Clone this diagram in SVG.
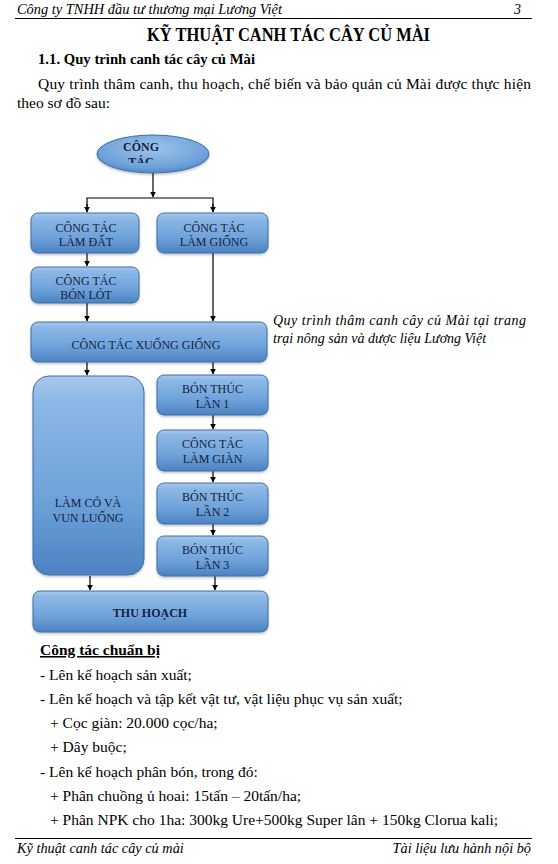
<svg xmlns="http://www.w3.org/2000/svg" width="558" height="864" viewBox="0 0 558 864">
<style>
.t{font-family:"Liberation Serif","Times New Roman",serif;fill:#000}
.i{font-style:italic}
.b{font-weight:bold}
.bx{fill:url(#g);stroke:#3e6ea6;stroke-width:1}
.lb{font-family:"Liberation Serif","Times New Roman",serif;font-size:12px;fill:#16233d;text-anchor:middle}
.c{stroke:#000;stroke-width:1.2;fill:none}
</style>
<defs>
<linearGradient id="g" x1="0" y1="0" x2="0" y2="1">
<stop offset="0" stop-color="#a9c9ec"/>
<stop offset="0.12" stop-color="#8db8e6"/>
<stop offset="0.6" stop-color="#6fa3db"/>
<stop offset="1" stop-color="#4c82c2"/>
</linearGradient>
<radialGradient id="ge" cx="0.5" cy="0.35" r="0.7">
<stop offset="0" stop-color="#9fc3ea"/>
<stop offset="0.7" stop-color="#6ea2da"/>
<stop offset="1" stop-color="#4d83c2"/>
</radialGradient>
<marker id="a" viewBox="0 0 10 10" refX="9" refY="5" markerWidth="6" markerHeight="6" orient="auto" markerUnits="userSpaceOnUse">
<path d="M0,0 L10,5 L0,10 z" fill="#000"/>
</marker>
<clipPath id="ec"><rect x="100" y="136" width="110" height="27"/></clipPath>
<filter id="sh" x="-10%" y="-10%" width="120%" height="130%"><feDropShadow dx="0" dy="1.5" stdDeviation="1" flood-color="#000" flood-opacity="0.25"/></filter>
</defs>

<!-- header -->
<text class="t i" x="17" y="14" font-size="14.3" textLength="265" lengthAdjust="spacingAndGlyphs">Công ty TNHH đầu tư thương mại Lương Việt</text>
<text class="t i" x="514" y="14" font-size="14">3</text>
<line x1="15" y1="18.5" x2="532" y2="18.5" stroke="#000" stroke-width="1"/>
<text class="t b" x="147" y="41" font-size="18" textLength="283" lengthAdjust="spacingAndGlyphs">KỸ THUẬT CANH TÁC CÂY CỦ MÀI</text>
<text class="t b" x="38" y="64" font-size="15.5" textLength="217" lengthAdjust="spacingAndGlyphs">1.1. Quy trình canh tác cây củ Mài</text>
<text class="t" x="38" y="89" font-size="15.5" textLength="493" lengthAdjust="spacing">Quy trình thâm canh, thu hoạch, chế biến và bảo quản củ Mài được thực hiện</text>
<text class="t" x="17" y="108" font-size="15.5">theo sơ đồ sau:</text>

<!-- connectors -->
<g id="connectors">
<path class="c" d="M153,173 V197" marker-end="url(#a)"/>
<path class="c" d="M87,212 V198 H213 V212" />
<path class="c" d="M87,204 V212" marker-end="url(#a)"/>
<path class="c" d="M213,204 V212" marker-end="url(#a)"/>
<path class="c" d="M87,253 V266" marker-end="url(#a)"/>
<path class="c" d="M213,253 V321" marker-end="url(#a)"/>
<path class="c" d="M87,303 V321" marker-end="url(#a)"/>
<path class="c" d="M87,362 V375" marker-end="url(#a)"/>
<path class="c" d="M213,362 V374" marker-end="url(#a)"/>
<path class="c" d="M213,415 V429" marker-end="url(#a)"/>
<path class="c" d="M213,471 V482" marker-end="url(#a)"/>
<path class="c" d="M213,524 V535" marker-end="url(#a)"/>
<path class="c" d="M90,576 V590" marker-end="url(#a)"/>
<path class="c" d="M215,576 V590" marker-end="url(#a)"/>
</g>

<g id="n-start">
<ellipse cx="153" cy="154" rx="56" ry="19" fill="url(#ge)" stroke="#3e6ea6" filter="url(#sh)"/>
<g clip-path="url(#ec)">
<text class="lb b" x="141" y="151">CÔNG</text>
<text class="lb b" x="141" y="166">TÁC</text>
</g>
</g>
<g id="n-lamdat">
<rect class="bx" x="31" y="213" width="108" height="40" rx="7" filter="url(#sh)"/>
<text class="lb" x="86" y="232">CÔNG TÁC</text>
<text class="lb" x="86" y="246">LÀM ĐẤT</text>
</g>
<g id="n-lamgiong">
<rect class="bx" x="157" y="213" width="111" height="40" rx="7" filter="url(#sh)"/>
<text class="lb" x="214" y="232">CÔNG TÁC</text>
<text class="lb" x="214" y="246">LÀM GIỐNG</text>
</g>
<g id="n-bonlot">
<rect class="bx" x="31" y="267" width="108" height="36" rx="7" filter="url(#sh)"/>
<text class="lb" x="86" y="285">CÔNG TÁC</text>
<text class="lb" x="86" y="299">BÓN LÓT</text>
</g>
<g id="n-xuonggiong">
<rect class="bx" x="31" y="322" width="236" height="40" rx="7" filter="url(#sh)"/>
<text class="lb" x="146" y="349">CÔNG TÁC XUỐNG GIỐNG</text>
</g>
<g id="n-lamco">
<rect class="bx" x="33" y="376" width="111" height="199" rx="16" filter="url(#sh)"/>
<text class="lb" x="88" y="507">LÀM CỎ VÀ</text>
<text class="lb" x="88" y="522">VUN LUỐNG</text>
</g>
<g id="n-bt1">
<rect class="bx" x="157" y="375" width="111" height="40" rx="7" filter="url(#sh)"/>
<text class="lb" x="212.5" y="393">BÓN THÚC</text>
<text class="lb" x="212.5" y="408">LẦN 1</text>
</g>
<g id="n-lamgian">
<rect class="bx" x="157" y="430" width="111" height="41" rx="7" filter="url(#sh)"/>
<text class="lb" x="212.5" y="448">CÔNG TÁC</text>
<text class="lb" x="212.5" y="463">LÀM GIÀN</text>
</g>
<g id="n-bt2">
<rect class="bx" x="157" y="483" width="111" height="41" rx="7" filter="url(#sh)"/>
<text class="lb" x="212.5" y="501">BÓN THÚC</text>
<text class="lb" x="212.5" y="516">LẦN 2</text>
</g>
<g id="n-bt3">
<rect class="bx" x="157" y="536" width="111" height="40" rx="7" filter="url(#sh)"/>
<text class="lb" x="212.5" y="554">BÓN THÚC</text>
<text class="lb" x="212.5" y="569">LẦN 3</text>
</g>
<g id="n-thuhoach">
<rect class="bx" x="33" y="591" width="235" height="41" rx="7" filter="url(#sh)"/>
<text class="lb b" x="150" y="617">THU HOẠCH</text>
</g>

<!-- caption -->
<text class="t i" x="273" y="325" font-size="14" textLength="253" lengthAdjust="spacing">Quy trình thâm canh cây củ Mài tại trang</text>
<text class="t i" x="273" y="343" font-size="14">trại nông sản và dược liệu Lương Việt</text>

<!-- body -->
<text class="t b" x="40" y="655" font-size="15.5" text-decoration="underline" textLength="120" lengthAdjust="spacingAndGlyphs">Công tác chuẩn bị</text>
<text class="t" x="40" y="680" font-size="15.5">- Lên kế hoạch sản xuất;</text>
<text class="t" x="40" y="704" font-size="15.5">- Lên kế hoạch và tập kết vật tư, vật liệu phục vụ sản xuất;</text>
<text class="t" x="50" y="728" font-size="15.5">+ Cọc giàn: 20.000 cọc/ha;</text>
<text class="t" x="50" y="752" font-size="15.5">+ Dây buộc;</text>
<text class="t" x="40" y="777" font-size="15.5">- Lên kế hoạch phân bón, trong đó:</text>
<text class="t" x="50" y="801" font-size="15.5">+ Phân chuồng ủ hoai: 15tấn – 20tấn/ha;</text>
<text class="t" x="50" y="825" font-size="15.5">+ Phân NPK cho 1ha: 300kg Ure+500kg Super lân + 150kg Clorua kali;</text>

<!-- footer -->
<line x1="15" y1="838.5" x2="532" y2="838.5" stroke="#000" stroke-width="1"/>
<text class="t i" x="17" y="853" font-size="14.3">Kỹ thuật canh tác cây củ mài</text>
<text class="t i" x="531" y="853" font-size="14.3" text-anchor="end">Tài liệu lưu hành nội bộ</text>
</svg>
